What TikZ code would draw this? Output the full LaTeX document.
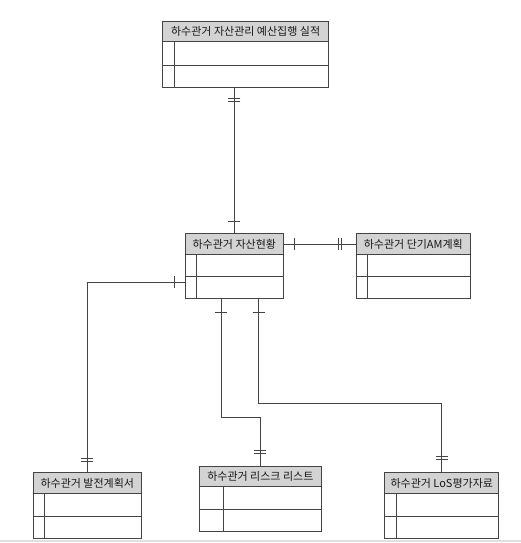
\documentclass[tikz,border=0pt]{standalone}
\usepackage{fontspec}
\newfontfamily\kr{Noto Sans CJK KR}
\usetikzlibrary{decorations.markings}
\definecolor{ln}{HTML}{444444}
\definecolor{hd}{HTML}{D3D3D3}
\tikzset{
  tbox/.style={draw=ln, line width=0.95pt, rectangle, inner sep=0pt, anchor=north west},
  thead/.style={draw=ln, line width=0.95pt, fill=hd, rectangle, inner sep=0pt, anchor=north west,
    minimum height=20.5pt, font=\kr\fontsize{11}{12}\selectfont, text=black!90},
  conn/.style={draw=ln, line width=0.95pt},
  tickone/.style={postaction={decorate, decoration={markings,
      mark=at position #1 with {\draw[conn] (0pt,-6pt) -- (0pt,6pt);}}}},
  ticktwo/.style={postaction={decorate, decoration={markings,
      mark=at position #1 with {\draw[conn] (0pt,-6pt) -- (0pt,6pt); \draw[conn] (-2.9pt,-6pt) -- (-2.9pt,6pt);}}}},
}
\newcommand\ertab[7]{%
  \node[tbox, minimum width=#4pt, minimum height=#5pt] (#1) at (#2,#3) {};
  \node[thead, minimum width=#4pt] (#1h) at (#2,#3) {#7};
  \draw[conn] ([yshift={-(#5-20.5)/2*1pt}]#1h.south west) -- ++(#4pt,0pt);
  \draw[conn] ([xshift=#6pt]#1h.south west) -- ([xshift=#6pt]#1.south west);
}
\begin{document}
\begin{tikzpicture}[x=1pt,y=-1pt]
\fill[white] (0,0) rectangle (521,543);
\useasboundingbox (0,0) rectangle (521,543);
\draw[draw=black!12, line width=1.2pt] (0,541) -- (521,541);

\ertab{A}{162.3}{21}{165.7}{66}{11.7}{하수관거 자산관리 예산집행 실적}
\ertab{B}{185}{233.3}{97.7}{64.4}{11.7}{하수관거 자산현황}
\ertab{C}{355.7}{233.3}{114.3}{64.4}{11.6}{하수관거 단기AM계획}
\ertab{D}{32.7}{472.3}{108.3}{66}{11.6}{하수관거 발전계획서}
\ertab{E}{198.7}{465.7}{122.3}{65.3}{24.3}{하수관거 리스크 리스트}
\ertab{F}{384.3}{472.3}{114}{66}{11.7}{하수관거 LoS평가자료}

\draw[conn, tickone=12pt, ticktwo=-10.3pt] (Bh.north) -- (Bh.north |- A.south);
\draw[conn, tickone=10.6pt, ticktwo=-14.7pt] (Bh.east) -- (Ch.west);
\draw[conn, tickone=10.7pt, ticktwo=-10.6pt] ([yshift=-16.5pt]B.west) -| (Dh.north);
\draw[conn, tickone=14pt, ticktwo=-12pt] ([xshift=36pt]B.south west) -- ++(0pt,-119.3pt) -| (Eh.north);
\draw[conn, tickone=14pt, ticktwo=-13pt] ([xshift=73.7pt]B.south west) -- ++(0pt,-104.6pt) -| (Fh.north);
\end{tikzpicture}
\end{document}
